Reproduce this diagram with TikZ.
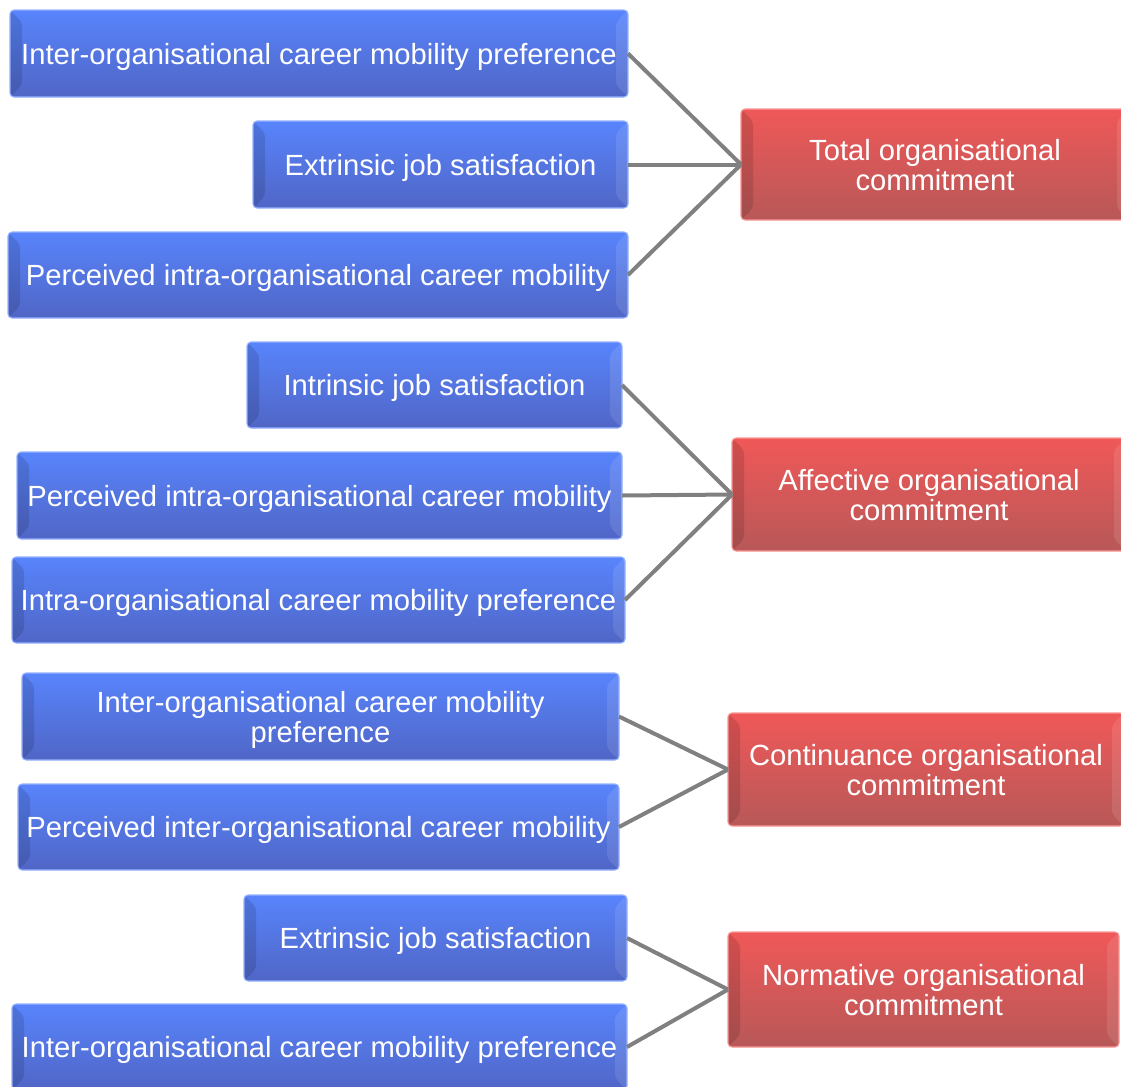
\documentclass[tikz,border=0pt]{standalone}
\usepackage{fontspec}
\setmainfont{Liberation Sans}
\definecolor{bluetop}{RGB}{88,132,252}
\definecolor{bluemid}{RGB}{74,110,226}
\definecolor{bluebot}{RGB}{80,102,198}
\definecolor{blueedge}{RGB}{150,178,255}
\definecolor{redtop}{RGB}{240,88,88}
\definecolor{redmid}{RGB}{210,76,76}
\definecolor{redbot}{RGB}{184,88,88}
\definecolor{rededge}{RGB}{250,150,150}
\definecolor{linkgray}{RGB}{128,128,128}
\tikzset{
  bevel/.style={path picture={
    \fill[black,opacity=0.12] (path picture bounding box.south west) -- (path picture bounding box.north west) -- ([shift={(9pt,-9pt)}]path picture bounding box.north west) -- ([shift={(9pt,9pt)}]path picture bounding box.south west) -- cycle;
    \fill[white,opacity=0.10] (path picture bounding box.south east) -- (path picture bounding box.north east) -- ([shift={(-9pt,-9pt)}]path picture bounding box.north east) -- ([shift={(-9pt,9pt)}]path picture bounding box.south east) -- cycle;
  }},
  basebox/.style={rectangle, rounded corners=3pt, inner sep=0pt, outer sep=0pt,
    line width=0.8pt, text=white, align=center, text depth=0pt,
    font=\fontsize{21.9}{22.5}\selectfont, bevel},
  bluebox/.style={basebox, draw=blueedge, top color=bluetop, middle color=bluemid, bottom color=bluebot},
  redbox/.style={basebox, draw=rededge, top color=redtop, middle color=redmid, bottom color=redbot},
  link/.style={draw=linkgray, line width=3pt}
}
\begin{document}
\begin{tikzpicture}[x=0.75pt,y=-0.75pt]
\useasboundingbox (0,0) rectangle (1121,1086);
% group 1
\node[bluebox, minimum width=463.5pt, minimum height=65.25pt] (b1) at (319,53.5) {Inter-organisational career mobility preference};
\node[bluebox, minimum width=281.25pt, minimum height=65.25pt] (b2) at (440.5,164.5) {Extrinsic job satisfaction};
\node[bluebox, minimum width=465pt, minimum height=64.5pt] (b3) at (318,275) {Perceived intra-organisational career mobility};
\node[redbox, minimum width=291pt, minimum height=83.25pt] (r1) at (935,164.5) {Total organisational\\commitment};
% group 2
\node[bluebox, minimum width=281.25pt, minimum height=64.5pt] (b4) at (434.5,385) {Intrinsic job satisfaction};
\node[bluebox, minimum width=453.75pt, minimum height=65.25pt] (b5) at (319.5,495.5) {Perceived intra-organisational career mobility};
\node[bluebox, minimum width=459.75pt, minimum height=64.5pt] (b6) at (318.5,600) {Intra-organisational career mobility preference};
\node[redbox, minimum width=295.5pt, minimum height=84.75pt] (r2) at (929,494.5) {Affective organisational\\commitment};
% group 3
\node[bluebox, minimum width=447.75pt, minimum height=65.25pt] (b7) at (320.5,716.5) {Inter-organisational career mobility\\preference};
\node[bluebox, minimum width=450.75pt, minimum height=64.5pt] (b8) at (318.5,827) {Perceived inter-organisational career mobility};
\node[redbox, minimum width=297pt, minimum height=84.75pt] (r3) at (926,769.5) {Continuance organisational\\commitment};
% group 4
\node[bluebox, minimum width=287.25pt, minimum height=64.5pt] (b9) at (435.5,938) {Extrinsic job satisfaction};
\node[bluebox, minimum width=461.25pt, minimum height=64.5pt] (b10) at (319.5,1047) {Inter-organisational career mobility preference};
\node[redbox, minimum width=293.25pt, minimum height=86.25pt] (r4) at (923.5,989.5) {Normative organisational\\commitment};
% connectors
\draw[link] (b1.east) -- (r1.west);
\draw[link] (b2.east) -- (r1.west);
\draw[link] (b3.east) -- (r1.west);
\draw[link] (b4.east) -- (r2.west);
\draw[link] (b5.east) -- (r2.west);
\draw[link] (b6.east) -- (r2.west);
\draw[link] (b7.east) -- (r3.west);
\draw[link] (b8.east) -- (r3.west);
\draw[link] (b9.east) -- (r4.west);
\draw[link] (b10.east) -- (r4.west);
\end{tikzpicture}
\end{document}
